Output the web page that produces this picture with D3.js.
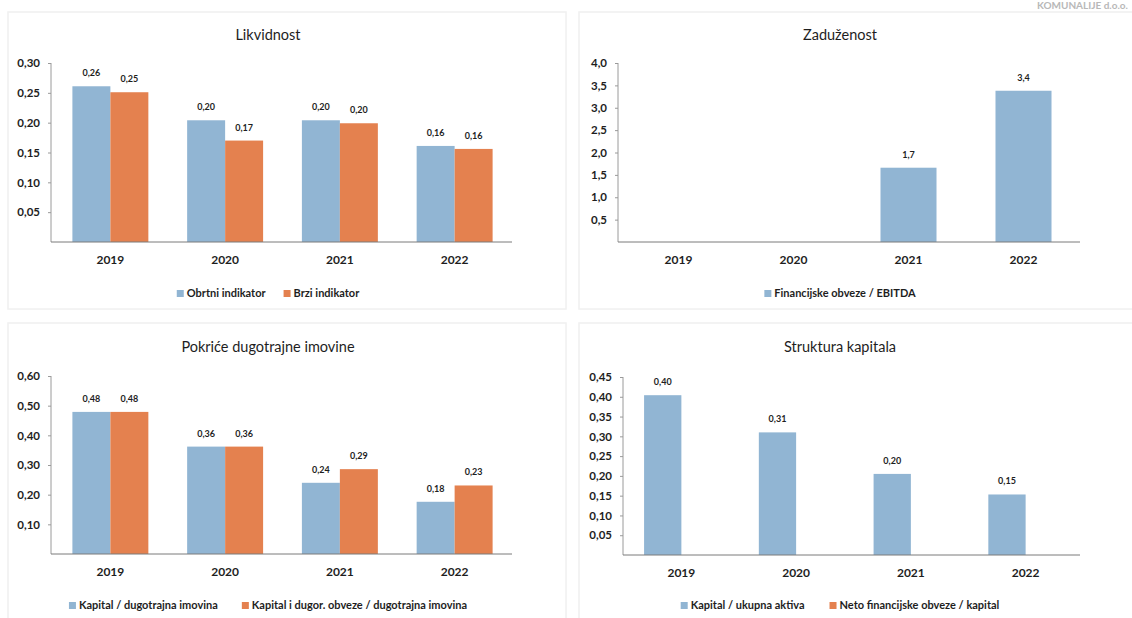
<!DOCTYPE html>
<html>
<head>
<meta charset="utf-8">
<script src="https://cdn.jsdelivr.net/npm/d3@7"></script>
<style>
  html, body { margin: 0; padding: 0; background: #fff; }
  svg { display: block; font-family: Lato, "Open Sans", sans-serif; }
</style>
</head>
<body>
<svg id="chart" width="1132" height="618"></svg>
<script>
// ---------- DATA ----------
const years = ["2019", "2020", "2021", "2022"];

const likvidnostTitle = "Likvidnost";
const likvidnostSeries = ["Obrtni indikator", "Brzi indikator"];
const obrtniIndikator = [0.261, 0.204, 0.204, 0.161];
const brziIndikator = [0.251, 0.170, 0.199, 0.156];
const likvidnostTicks = [0.05, 0.10, 0.15, 0.20, 0.25, 0.30];

const zaduzenostTitle = "Zaduženost";
const zaduzenostSeries = ["Financijske obveze / EBITDA"];
const finObvezeEbitda = [0, 0, 1.66, 3.38];
const zaduzenostTicks = [0.5, 1.0, 1.5, 2.0, 2.5, 3.0, 3.5, 4.0];

const pokriceTitle = "Pokriće dugotrajne imovine";
const pokriceSeries = ["Kapital / dugotrajna imovina", "Kapital i dugor. obveze / dugotrajna imovina"];
const kapitalDugotrajna = [0.479, 0.362, 0.240, 0.176];
const kapitalDugorObveze = [0.479, 0.362, 0.286, 0.231];
const pokriceTicks = [0.10, 0.20, 0.30, 0.40, 0.50, 0.60];

const strukturaTitle = "Struktura kapitala";
const strukturaSeries = ["Kapital / ukupna aktiva", "Neto financijske obveze / kapital"];
const kapitalUkupnaAktiva = [0.404, 0.310, 0.205, 0.153];
const netoFinObvezeKapital = [0, 0, 0, 0];
const strukturaTicks = [0.05, 0.10, 0.15, 0.20, 0.25, 0.30, 0.35, 0.40, 0.45];

const headerText = "KOMUNALIJE d.o.o.";

// ---------- STYLE ----------
const BLUE = "#91b5d3";
const ORANGE = "#e4814f";
const TEXT = "#1e1e1e";
const fmt1 = v => d3.format(".1f")(v).replace(".", ",");
const fmt2 = v => d3.format(".2f")(v).replace(".", ",");

const svg = d3.select("#chart");

// panel frames
const frames = [
  [8, 12, 558, 297], [579, 12, 560, 297],
  [8, 323, 558, 300], [579, 323, 560, 300]
];
svg.selectAll("rect.frame").data(frames).join("rect")
  .attr("class", "frame")
  .attr("x", d => d[0]).attr("y", d => d[1])
  .attr("width", d => d[2]).attr("height", d => d[3])
  .attr("fill", "none").attr("stroke", "#f0f0f0").attr("stroke-width", 1.5);

svg.append("text").attr("x", 1128).attr("y", 9)
  .attr("text-anchor", "end")
  .attr("font-size", 10).attr("font-weight", 700).attr("fill", "#b8b8b8")
  .text(headerText);

function panel(cfg) {
  const g = svg.append("g");
  const y = d3.scaleLinear().domain([0, cfg.max]).range([cfg.base, cfg.top]);
  const x0 = d3.scaleBand().domain(years).range(cfg.xr)
    .paddingInner(cfg.padIn).paddingOuter(cfg.padIn / 2);
  const x1 = d3.scaleBand().domain(cfg.series).range([0, x0.bandwidth()]);

  // title
  g.append("text").attr("x", cfg.cx).attr("y", cfg.titleY)
    .attr("text-anchor", "middle").attr("font-size", 14.5).attr("fill", TEXT)
    .text(cfg.title);

  // bars
  const rows = years.map((yr, i) => ({ yr, vals: cfg.values.map((arr, s) => ({ s, v: arr[i] })) }));
  const grp = g.selectAll("g.grp").data(rows).join("g")
    .attr("transform", d => `translate(${x0(d.yr)},0)`);
  grp.selectAll("rect").data(d => d.vals.filter(o => o.v > 0)).join("rect")
    .attr("x", o => x1(cfg.series[o.s]))
    .attr("width", x1.bandwidth())
    .attr("y", o => y(o.v))
    .attr("height", o => cfg.base - y(o.v))
    .attr("fill", o => cfg.colors[o.s]);
  grp.selectAll("text.val").data(d => d.vals.filter(o => o.v > 0)).join("text")
    .attr("class", "val")
    .attr("x", o => x1(cfg.series[o.s]) + x1.bandwidth() / 2)
    .attr("y", o => y(o.v) - 10)
    .attr("text-anchor", "middle").attr("font-size", 9).attr("font-weight", 700)
    .attr("fill", TEXT)
    .text(o => cfg.fmt(o.v));

  // y axis
  const yAxis = d3.axisLeft(y).tickValues(cfg.ticks).tickFormat(cfg.fmt).tickSize(3).tickPadding(8);
  const ya = g.append("g").attr("transform", `translate(${cfg.axisX},0)`).call(yAxis);
  ya.select(".domain").attr("stroke", "#9a9a9a").attr("d", `M0,${cfg.top}V${cfg.base}`);
  ya.selectAll(".tick line").attr("stroke", "#9a9a9a");
  ya.selectAll(".tick text").attr("font-size", 11.5).attr("font-weight", 700)
    .attr("fill", TEXT).attr("font-family", "Lato, sans-serif");

  // x axis
  const xAxis = d3.axisBottom(x0).tickSize(0).tickPadding(13);
  const xa = g.append("g").attr("transform", `translate(0,${cfg.base})`).call(xAxis);
  xa.select(".domain").attr("stroke", "#7a7a7a").attr("d", `M${cfg.axisX},0H${cfg.axisEnd}`);
  xa.selectAll(".tick text").attr("font-size", 12).attr("font-weight", 700)
    .attr("fill", TEXT).attr("font-family", "Lato, sans-serif");

  // legend
  const lg = g.append("g");
  let cur = 0;
  cfg.series.forEach((name, i) => {
    const it = lg.append("g").attr("transform", `translate(${cur},0)`);
    it.append("rect").attr("x", 0).attr("y", -7).attr("width", 7).attr("height", 7)
      .attr("fill", cfg.colors[i]);
    const t = it.append("text").attr("x", 10).attr("y", 0)
      .attr("font-size", 11).attr("font-weight", 700).attr("fill", TEXT).text(name);
    cur += 10 + t.node().getComputedTextLength() + cfg.legendGap;
  });
  const total = cur - cfg.legendGap;
  lg.attr("transform", `translate(${cfg.cx - total / 2},${cfg.legendY})`);
}

panel({
  title: likvidnostTitle, series: likvidnostSeries, values: [obrtniIndikator, brziIndikator],
  colors: [BLUE, ORANGE], ticks: likvidnostTicks, max: 0.30, fmt: fmt2,
  cx: 268, titleY: 40, top: 63, base: 242, axisX: 51, axisEnd: 512,
  xr: [53, 512], padIn: 0.338, legendY: 297, legendGap: 18
});
panel({
  title: zaduzenostTitle, series: zaduzenostSeries, values: [finObvezeEbitda],
  colors: [BLUE], ticks: zaduzenostTicks, max: 4.0, fmt: fmt1,
  cx: 840, titleY: 40, top: 63, base: 242, axisX: 618, axisEnd: 1080,
  xr: [621, 1081], padIn: 0.513, legendY: 297, legendGap: 20
});
panel({
  title: pokriceTitle, series: pokriceSeries, values: [kapitalDugotrajna, kapitalDugorObveze],
  colors: [BLUE, ORANGE], ticks: pokriceTicks, max: 0.60, fmt: fmt2,
  cx: 268, titleY: 352, top: 376, base: 554, axisX: 51, axisEnd: 512,
  xr: [53, 512], padIn: 0.338, legendY: 609, legendGap: 24
});
panel({
  title: strukturaTitle, series: strukturaSeries, values: [kapitalUkupnaAktiva, netoFinObvezeKapital],
  colors: [BLUE, ORANGE], ticks: strukturaTicks, max: 0.45, fmt: fmt2,
  cx: 840, titleY: 352, top: 377, base: 555, axisX: 623, axisEnd: 1080,
  xr: [624, 1083], padIn: 0.35, legendY: 609, legendGap: 25
});
</script>
</body>
</html>
